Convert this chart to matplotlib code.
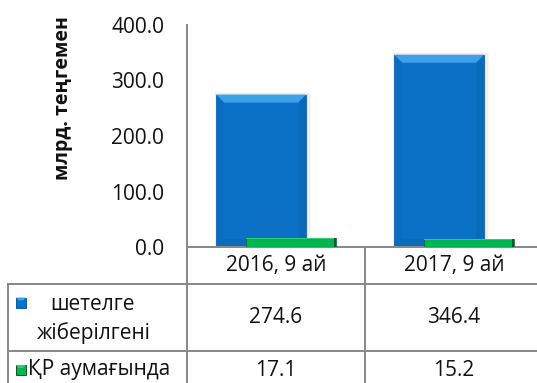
import matplotlib
matplotlib.use("Agg")
import matplotlib.pyplot as plt
from matplotlib.patches import Polygon, Rectangle
from matplotlib.lines import Line2D
import numpy as np

plt.rcParams["font.family"] = ["Open Sans", "DejaVu Sans"]

# ---- data ----
categories = ["2016, 9 ай", "2017, 9 ай"]
row_abroad = ["шетелге", "жіберілгені"]
row_domestic = "ҚР аумағында"
abroad = [274.6, 346.4]
domestic = [17.1, 15.2]
yticks = [0, 100, 200, 300, 400]
ylabel = "млрд. теңгемен"

# ---- figure geometry (pixels) ----
W, H = 537, 383
fig = plt.figure(figsize=(W / 100, H / 100), dpi=100)


def fx(px):
    return px / W


def fy(py):
    return 1 - py / H


AX_L, AX_R, AX_T, AX_B = 187, 543, 25, 247
ax = fig.add_axes([fx(AX_L), fy(AX_B), (AX_R - AX_L) / W, (AX_B - AX_T) / H])
ax.set_xlim(-0.5, 1.5)
ax.set_ylim(0, 400)

GRID = "#8A8A8A"
BLUE, BLUE_EDGE, BLUE_LIGHT, BLUE_DARK = "#0A71C6", "#0A5CA3", "#3FA0EA", "#0866B2"
GREEN, GREEN_EDGE, GREEN_LIGHT = "#00B450", "#0A5A2A", "#33CC70"

x = np.arange(len(categories))
width = 0.506
offset = 0.083

# data units per pixel
ux = 2.0 / (AX_R - AX_L)
uy = 400.0 / (AX_B - AX_T)


def shadow(bar):
    x0, w, h = bar.get_x(), bar.get_width(), bar.get_height()
    for k, a in zip([5, 3.5, 2], [0.04, 0.06, 0.08]):
        ax.add_patch(Rectangle((x0 - 0.3 * k * ux, 0), w + 1.3 * k * ux, h + 0.5 * k * uy,
                               facecolor="#707070", edgecolor="none", alpha=a, zorder=1))


def bevel(bar, light, dark, depth_px):
    x0, w, h = bar.get_x(), bar.get_width(), bar.get_height()
    x1 = x0 + w
    dx, dy = depth_px * ux, depth_px * uy
    z = bar.get_zorder() + 0.1
    top = Polygon([(x0, h), (x1, h), (x1 - dx, h - dy), (x0 + dx, h - dy)],
                  closed=True, facecolor=light, edgecolor="none", zorder=z)
    left = Polygon([(x0, h), (x0 + dx, h - dy), (x0 + dx, dy), (x0, 0)],
                   closed=True, facecolor=dark, edgecolor="none", alpha=0.35, zorder=z)
    right = Polygon([(x1, h), (x1 - dx, h - dy), (x1 - dx, dy), (x1, 0)],
                    closed=True, facecolor=dark, edgecolor="none", alpha=0.6, zorder=z)
    bottom = Polygon([(x0, 0), (x1, 0), (x1 - dx, dy), (x0 + dx, dy)],
                     closed=True, facecolor=dark, edgecolor="none", alpha=0.5, zorder=z)
    for p in (top, left, right, bottom):
        ax.add_patch(p)


blue_bars = ax.bar(x - offset, abroad, width, color=BLUE, edgecolor=BLUE_EDGE,
                   linewidth=0.5, zorder=2)
green_bars = ax.bar(x + offset, domestic, width, color=GREEN, edgecolor=GREEN_EDGE,
                    linewidth=0.5, zorder=4)
for b in blue_bars:
    shadow(b)
    bevel(b, BLUE_LIGHT, BLUE_DARK, 8)
for b in green_bars:
    x0, w, h = b.get_x(), b.get_width(), b.get_height()
    # light top rim and dark right edge
    ax.add_patch(Rectangle((x0, h - 1.5 * uy), w, 1.5 * uy, facecolor=GREEN_LIGHT,
                           edgecolor="none", zorder=4.1))
    ax.add_patch(Rectangle((x0 + w - 2 * ux, 0), 2 * ux, h,
                           facecolor=GREEN_EDGE, edgecolor="none", zorder=4.2))

# ---- axes styling ----
for s in ("top", "right"):
    ax.spines[s].set_visible(False)
for s in ("left", "bottom"):
    ax.spines[s].set_color(GRID)
    ax.spines[s].set_linewidth(1.45)
ax.set_yticks(yticks)
ax.set_yticklabels([f"{v:.1f}" for v in yticks], fontsize=15, color="#111111")
ax.tick_params(axis="y", length=0, pad=16.5)
ax.set_xticks([])
ax.set_ylabel(ylabel, fontsize=14, fontweight="bold", color="#111111")
ax.yaxis.set_label_coords((63 - AX_L) / (AX_R - AX_L), (AX_B - 98.5) / (AX_B - AX_T))
ax.yaxis.label.set_va("center")

# ---- data table below the plot ----
COL = [8, 187, 365, AX_R]
ROW = [247, 284, 351, 392]


def hline(py, x0, x1):
    fig.add_artist(Line2D([fx(x0), fx(x1)], [fy(py), fy(py)], color=GRID, lw=1.45))


def vline(px, y0, y1):
    fig.add_artist(Line2D([fx(px), fx(px)], [fy(y0), fy(y1)], color=GRID, lw=1.45))


hline(ROW[1], COL[0], W + 5)
hline(ROW[2], COL[0], W + 5)
vline(COL[0], ROW[1], H + 5)
vline(COL[1], ROW[0], H + 5)
vline(COL[2], ROW[0], H + 5)

TXT = dict(fontsize=15, color="#111111", ha="center", va="center")
for i, cat in enumerate(categories):
    cx = (COL[i + 1] + COL[i + 2]) / 2
    fig.text(fx(cx), fy(265.5), cat, **TXT)
    fig.text(fx(cx), fy(317.5), f"{abroad[i]:.1f}", **TXT)
    fig.text(fx(cx), fy(370), f"{domestic[i]:.1f}", **TXT)

fig.text(fx(92), fy(304), row_abroad[0], **TXT)
fig.text(fx(94), fy(333), row_abroad[1], **TXT)
fig.text(fx(28), fy(370), row_domestic, fontsize=15, color="#111111", ha="left", va="center")


def key(px, py, face, edge, light):
    fig.add_artist(Rectangle((fx(px), fy(py + 10)), 10 / W, 10 / H, transform=fig.transFigure,
                             facecolor=face, edgecolor=edge, lw=0.7))
    fig.add_artist(Polygon([(fx(px), fy(py)), (fx(px + 10), fy(py)), (fx(px + 7), fy(py + 3)),
                            (fx(px + 3), fy(py + 3))], closed=True, transform=fig.transFigure,
                           facecolor=light, edgecolor="none"))


key(16, 297.5, BLUE, BLUE_EDGE, BLUE_LIGHT)
key(16, 365, GREEN, GREEN_EDGE, GREEN_LIGHT)

fig.savefig("out.png", dpi=100)
